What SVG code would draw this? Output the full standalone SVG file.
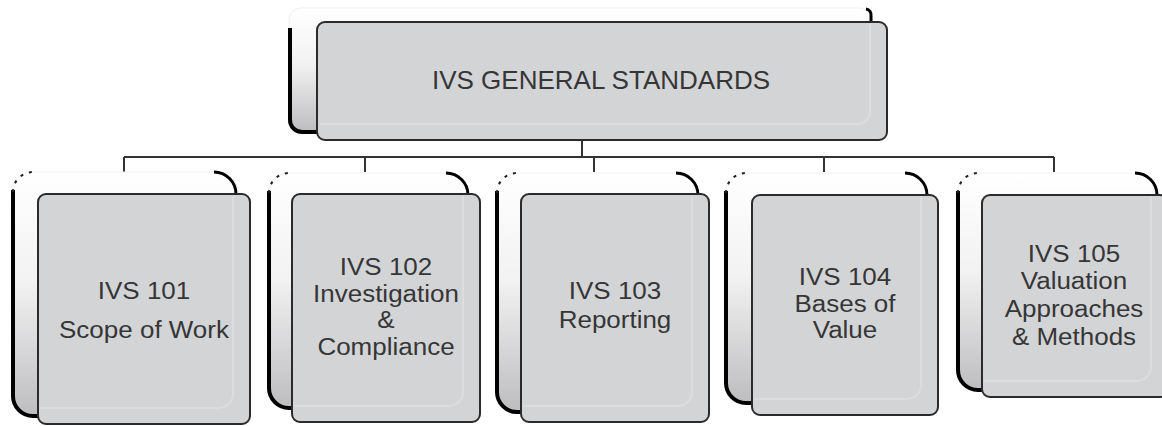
<svg xmlns="http://www.w3.org/2000/svg" width="1162" height="426" viewBox="0 0 1162 426">
<defs>
<linearGradient id="g" x1="0" y1="0" x2="0" y2="1">
<stop offset="0" stop-color="#ffffff"/>
<stop offset="0.45" stop-color="#f2f2f3"/>
<stop offset="1" stop-color="#bdbdbf"/>
</linearGradient>
<style>
.back{fill:url(#g);stroke:#f0f0f0;stroke-width:1}
.sh{fill:none;stroke:#000;stroke-width:4;stroke-linejoin:round}
.arc{fill:none;stroke:#000;stroke-width:3}
.dot{fill:none;stroke:#222;stroke-width:2;stroke-dasharray:3 6}
.front{fill:#d3d4d6;stroke:#2b2b2b;stroke-width:2}
.inner{fill:none;stroke:#dcdddf;stroke-width:2}
.t{font-family:"Liberation Sans",Arial,sans-serif;font-size:26px;fill:#363636;text-anchor:middle}
.c{font-family:"Liberation Sans",Arial,sans-serif;font-size:23px;fill:#363636;text-anchor:middle}
.conn{fill:none;stroke:#333;stroke-width:2}
</style>
</defs>
<rect width="1162" height="426" fill="#ffffff"/>
<g id="connectors">
<path class="conn" d="M582,140 V157 M124,157 H1054 M124,157 V172 M365,157 V172 M594,157 V172 M824,157 V172 M1054,157 V172"/>
</g>
<g id="n0">
<rect class="back" x="289" y="8" width="583" height="124" rx="12"/>
<path class="sh" d="M290,28 V120 A12,12 0 0 0 302,132 H318"/>
<path class="arc" d="M866,9 A6,6 0 0 1 871,16 V24"/>
<rect class="front" x="317" y="22" width="570" height="118" rx="8"/>
<path class="inner" d="M870,24 V112 A12,12 0 0 1 858,124 H320"/>
<text class="t" x="601" y="89">IVS GENERAL STANDARDS</text>
</g>
<g id="n1">
<rect class="back" x="12" y="172" width="226" height="244" rx="20"/>
<path class="sh" d="M13,190 V396 A20,20 0 0 0 33,416 H40"/>
<path class="dot" d="M13,192 A20,20 0 0 1 33,172"/>
<path class="arc" d="M214,172 A22,22 0 0 1 236,194"/>
<rect class="front" x="38" y="194" width="212" height="230" rx="8"/>
<path class="inner" d="M233,196 V394 A14,14 0 0 1 219,408 H40"/>
<g transform="translate(144,0) scale(1.13,1)">
<text class="c" x="0" y="299">IVS 101</text>
<text class="c" x="0" y="338">Scope of Work</text>
</g>
</g>
<g id="n2">
<rect class="back" x="268" y="173" width="200" height="235" rx="20"/>
<path class="sh" d="M269,191 V388 A20,20 0 0 0 289,408 H294"/>
<path class="dot" d="M269,193 A20,20 0 0 1 289,173"/>
<path class="arc" d="M446,173 A22,22 0 0 1 468,195"/>
<rect class="front" x="292" y="194" width="188" height="228" rx="8"/>
<path class="inner" d="M463,196 V392 A14,14 0 0 1 449,406 H294"/>
<g transform="translate(386,0) scale(1.13,1)">
<text class="c" x="0" y="275">IVS 102</text>
<text class="c" x="0" y="302">Investigation</text>
<text class="c" x="0" y="328">&amp;</text>
<text class="c" x="0" y="355">Compliance</text>
</g>
</g>
<g id="n3">
<rect class="back" x="496" y="173" width="202" height="239" rx="20"/>
<path class="sh" d="M497,191 V392 A20,20 0 0 0 517,412 H523"/>
<path class="dot" d="M497,193 A20,20 0 0 1 517,173"/>
<path class="arc" d="M676,173 A22,22 0 0 1 698,195"/>
<rect class="front" x="521" y="194" width="188" height="228" rx="8"/>
<path class="inner" d="M692,196 V392 A14,14 0 0 1 678,406 H523"/>
<g transform="translate(615,0) scale(1.13,1)">
<text class="c" x="0" y="299">IVS 103</text>
<text class="c" x="0" y="328">Reporting</text>
</g>
</g>
<g id="n4">
<rect class="back" x="725" y="173" width="202" height="230" rx="20"/>
<path class="sh" d="M726,191 V383 A20,20 0 0 0 746,403 H754"/>
<path class="dot" d="M726,193 A20,20 0 0 1 746,173"/>
<path class="arc" d="M905,173 A22,22 0 0 1 927,195"/>
<rect class="front" x="752" y="195" width="186" height="220" rx="8"/>
<path class="inner" d="M921,197 V385 A14,14 0 0 1 907,399 H754"/>
<g transform="translate(845,0) scale(1.13,1)">
<text class="c" x="0" y="285">IVS 104</text>
<text class="c" x="0" y="312">Bases of</text>
<text class="c" x="0" y="338">Value</text>
</g>
</g>
<g id="n5">
<rect class="back" x="957" y="173" width="200" height="217" rx="20"/>
<path class="sh" d="M958,191 V370 A20,20 0 0 0 978,390 H984"/>
<path class="dot" d="M958,193 A20,20 0 0 1 978,173"/>
<path class="arc" d="M1135,173 A22,22 0 0 1 1157,195"/>
<rect class="front" x="982" y="195" width="186" height="202" rx="8"/>
<path class="inner" d="M1151,197 V367 A14,14 0 0 1 1137,381 H984"/>
<g transform="translate(1074,0) scale(1.13,1)">
<text class="c" x="0" y="262">IVS 105</text>
<text class="c" x="0" y="289">Valuation</text>
<text class="c" x="0" y="317">Approaches</text>
<text class="c" x="0" y="345">&amp; Methods</text>
</g>
</g>
</svg>
